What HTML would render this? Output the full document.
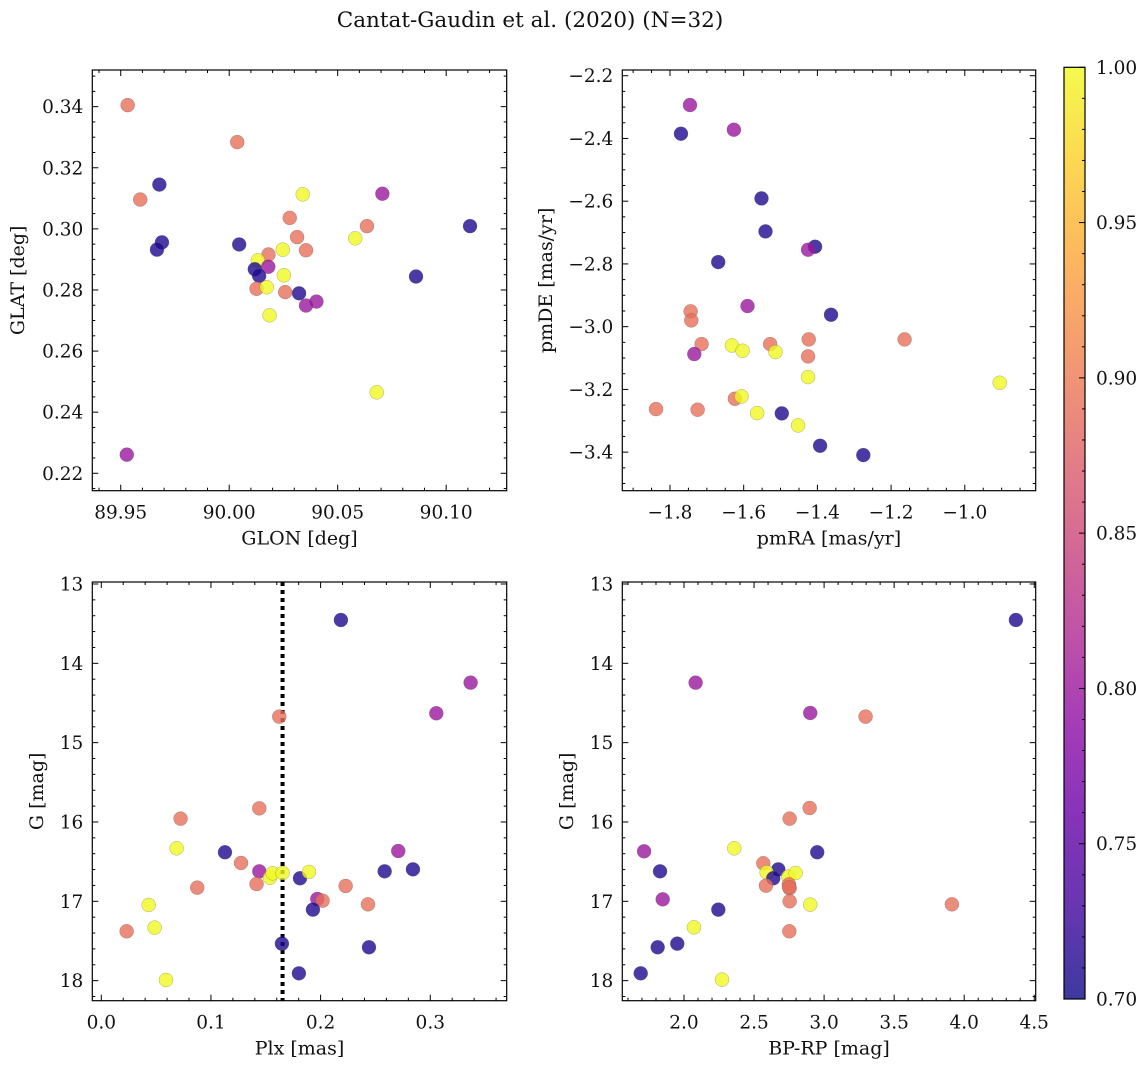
<!DOCTYPE html>
<html><head><meta charset="utf-8"><style>
html,body{margin:0;padding:0;background:#fff;}
svg{display:block;font-family:"DejaVu Serif","Liberation Serif",serif;}
</style></head><body>
<svg id="fig" width="1148" height="1067" viewBox="0 0 1148 1067" xmlns="http://www.w3.org/2000/svg">
<defs>
<linearGradient id="plasmaGrad" x1="0" y1="1" x2="0" y2="0">
<stop offset="0" stop-color="#0d0887"/><stop offset="0.1" stop-color="#41049d"/><stop offset="0.2" stop-color="#6a00a8"/><stop offset="0.3" stop-color="#8f0da4"/><stop offset="0.4" stop-color="#b12a90"/><stop offset="0.5" stop-color="#cc4778"/><stop offset="0.6" stop-color="#e16462"/><stop offset="0.7" stop-color="#f2844b"/><stop offset="0.8" stop-color="#fca636"/><stop offset="0.9" stop-color="#fcce25"/><stop offset="1" stop-color="#f0f921"/>
</linearGradient>
</defs>
<text x="530" y="27" text-anchor="middle" font-size="21.5" fill="#111">Cantat-Gaudin et al. (2020) (N=32)</text>
</svg>
<script>
// Panel 1: GLON vs GLAT
const p1_glon=[89.9532,90.0037,89.959,89.9678,89.969,89.9667,90.0046,90.0339,90.0706,90.111,90.0279,90.0635,90.0581,90.0313,90.0247,90.0354,90.0181,90.0132,90.018,90.0118,90.0138,90.0252,90.0126,90.0173,90.0258,90.0322,90.0354,90.0402,90.0186,90.0861,90.068,89.9528];
const p1_glat=[0.3405,0.3284,0.3096,0.3145,0.2956,0.2932,0.2949,0.3113,0.3115,0.3009,0.3036,0.3009,0.2969,0.2973,0.2932,0.2930,0.2916,0.2897,0.2876,0.2868,0.2846,0.2848,0.2804,0.2809,0.2793,0.2789,0.2749,0.2762,0.2717,0.2844,0.2465,0.2261];
const p1_prob=[0.89,0.89,0.89,0.71,0.71,0.71,0.71,1.0,0.80,0.71,0.89,0.89,1.0,0.89,1.0,0.89,0.89,1.0,0.80,0.71,0.71,1.0,0.89,1.0,0.89,0.71,0.80,0.80,1.0,0.71,1.0,0.80];
// Panel 2: pmRA vs pmDE
const p2_pmra=[-1.7458,-1.7702,-1.6266,-1.5517,-1.5408,-1.4063,-1.4253,-1.6691,-1.5896,-1.744,-1.7422,-1.363,-1.7142,-1.734,-1.632,-1.6031,-1.5282,-1.5137,-1.4235,-1.4253,-1.1634,-1.4253,-0.9051,-1.6239,-1.6058,-1.8379,-1.725,-1.5634,-1.4966,-1.4523,-1.3927,-1.2754];
const p2_pmde=[-2.2935,-2.3849,-2.3722,-2.5911,-2.6963,-2.7452,-2.7547,-2.7941,-2.9343,-2.9513,-2.98,-2.962,-3.0555,-3.0873,-3.06,-3.0767,-3.0555,-3.081,-3.0406,-3.0948,-3.0406,-3.1607,-3.1788,-3.2298,-3.2223,-3.2627,-3.2648,-3.2755,-3.2765,-3.3148,-3.3796,-3.4094];
const p2_prob=[0.80,0.71,0.80,0.71,0.71,0.71,0.80,0.71,0.80,0.89,0.89,0.71,0.89,0.80,1.0,1.0,0.89,1.0,0.89,0.89,0.89,1.0,1.0,0.89,1.0,0.89,0.89,1.0,0.71,1.0,0.71,0.71];
// Panel 3: Plx vs G
const p3_plx=[0.2185,0.3368,0.3055,0.1623,0.1441,0.0723,0.0687,0.1128,0.1274,0.1441,0.1538,0.1562,0.1653,0.1812,0.1894,0.1416,0.0875,0.2708,0.2584,0.2842,0.2228,0.197,0.2018,0.2432,0.193,0.0432,0.0486,0.0231,0.1647,0.2441,0.1802,0.059];
const p3_g=[13.454,14.244,14.630,14.672,15.828,15.958,16.332,16.382,16.517,16.622,16.702,16.647,16.643,16.710,16.630,16.782,16.828,16.366,16.622,16.597,16.807,16.971,16.992,17.038,17.105,17.046,17.332,17.378,17.534,17.580,17.908,17.992];
const p3_prob=[0.71,0.80,0.80,0.89,0.89,0.89,1.0,0.71,0.89,0.80,1.0,1.0,1.0,0.71,1.0,0.89,0.89,0.80,0.71,0.71,0.89,0.80,0.89,0.89,0.71,1.0,1.0,0.89,0.71,0.71,0.71,1.0];
const plxLine=0.1653;
// Panel 4: BP-RP vs G
const p4_bprp=[4.369,2.083,2.901,3.296,2.897,2.754,2.359,2.951,1.715,1.829,2.566,2.673,2.590,2.637,2.745,2.797,2.585,2.749,2.754,1.848,2.754,2.901,3.912,2.245,2.071,2.752,1.812,1.952,1.691,2.271,2.75];
const p4_g=[13.454,14.244,14.626,14.672,15.824,15.958,16.332,16.382,16.370,16.622,16.521,16.597,16.634,16.710,16.689,16.643,16.803,16.786,16.836,16.975,17.0,17.042,17.038,17.105,17.328,17.378,17.580,17.534,17.908,17.987,16.82];
const p4_prob=[0.71,0.80,0.80,0.89,0.89,0.89,1.0,0.71,0.80,0.71,0.89,0.71,1.0,0.71,1.0,1.0,0.89,0.89,0.89,0.80,0.89,1.0,0.89,0.71,1.0,0.89,0.71,0.71,0.71,1.0,0.89];
// Colorbar
const cbTicks=[0.70,0.75,0.80,0.85,0.90,0.95,1.00];

const NS='http://www.w3.org/2000/svg';
const svg=document.getElementById('fig');
const stops=[[0,[13,8,135]],[0.1,[65,4,157]],[0.2,[106,0,168]],[0.3,[143,13,164]],[0.4,[177,42,144]],[0.5,[204,71,120]],[0.6,[225,100,98]],[0.7,[242,132,75]],[0.8,[252,166,54]],[0.9,[252,206,37]],[1,[240,249,33]]];
function plasma(t){t=Math.max(0,Math.min(1,t));for(let i=1;i<stops.length;i++){if(t<=stops[i][0]){const a=stops[i-1],b=stops[i];const f=(t-a[0])/(b[0]-a[0]);const c=a[1].map((v,k)=>Math.round(v+(b[1][k]-v)*f));return 'rgb('+c.join(',')+')';}}return 'rgb(240,249,33)';}
function mk(tag,attrs,parent){const e=document.createElementNS(NS,tag);for(const k in attrs)e.setAttribute(k,attrs[k]);(parent||svg).appendChild(e);return e;}
function fmt(v,d){const s=Math.abs(v).toFixed(d);return (v<-1e-9?'\u2212':'')+s;}
const TF=18.5, LF=19;

function panel(o){
  const g=mk('g',{});
  
  
  const X=v=>o.px0+(v-o.xmin)/(o.xmax-o.xmin)*(o.px1-o.px0);
  const Y=o.invertY?(v=>o.py0+(v-o.ymin)/(o.ymax-o.ymin)*(o.py1-o.py0)):(v=>o.py1-(v-o.ymin)/(o.ymax-o.ymin)*(o.py1-o.py0));
  const tg=mk('g',{stroke:'#000','stroke-width':1},g);
  
  
  const eps=1e-9;
  for(let v=Math.ceil(o.xmin/o.xminor-eps)*o.xminor;v<=o.xmax+eps;v+=o.xminor){
    const isMaj=Math.abs(v/o.xmajor-Math.round(v/o.xmajor))<1e-6;const L=isMaj?6:3;const x=X(v);
    mk('line',{x1:x,x2:x,y1:o.py1,y2:o.py1-L},tg);mk('line',{x1:x,x2:x,y1:o.py0,y2:o.py0+L},tg);
    if(isMaj){const t=mk('text',{x:x,y:o.py1+28,'text-anchor':'middle','font-size':TF,fill:'#111',stroke:'none'},g);t.textContent=fmt(v,o.xdec);
      
      }
  }
  const ylo=Math.min(o.ymin,o.ymax),yhi=Math.max(o.ymin,o.ymax);
  for(let v=Math.ceil(ylo/o.yminor-eps)*o.yminor;v<=yhi+eps;v+=o.yminor){
    const isMaj=Math.abs(v/o.ymajor-Math.round(v/o.ymajor))<1e-6;const L=isMaj?6:3;const y=Y(v);
    mk('line',{x1:o.px0,x2:o.px0+L,y1:y,y2:y},tg);mk('line',{x1:o.px1,x2:o.px1-L,y1:y,y2:y},tg);
    if(isMaj){const t=mk('text',{x:o.px0-9,y:y+6.5,'text-anchor':'end','font-size':TF,fill:'#111',stroke:'none'},g);t.textContent=fmt(v,o.ydec);
      
      }
  }
  if(o.vline!==undefined){const l=mk('line',{x1:X(o.vline),x2:X(o.vline),y1:o.py0,y2:o.py1,stroke:'#000','stroke-width':4,'stroke-dasharray':'4 4'},g);
    
    }
  const pg=mk('g',{},g);
  
  
  for(let i=0;i<o.xs.length;i++){
    const c=mk('circle',{cx:X(o.xs[i]),cy:Y(o.ys[i]),r:7,fill:plasma((o.cs[i]-0.7)/0.3),'fill-opacity':0.8,stroke:'#555','stroke-opacity':0.6,'stroke-width':0.4},pg);
    
    
  }
  const fr=mk('rect',{x:o.px0,y:o.py0,width:o.px1-o.px0,height:o.py1-o.py0,fill:'none',stroke:'#000','stroke-width':1.2},g);
  
  
  const xl=mk('text',{x:(o.px0+o.px1)/2,y:o.py1+54,'text-anchor':'middle','font-size':LF,fill:'#111'},g);xl.textContent=o.xlabel;
  
  
  const yx=o.ylabx,yy=(o.py0+o.py1)/2;
  const yl=mk('text',{x:yx,y:yy,'text-anchor':'middle','font-size':LF,fill:'#111',transform:'rotate(-90 '+yx+' '+yy+')'},g);yl.textContent=o.ylabel;
  
  
}

panel({name:'glon-glat-panel',px0:92.3,px1:506.7,py0:70,py1:490.7,xmin:89.9369,xmax:90.1279,ymin:0.2143,ymax:0.3520,xmajor:0.05,xminor:0.01,ymajor:0.02,yminor:0.005,xdec:2,ydec:2,xs:p1_glon,ys:p1_glat,cs:p1_prob,xlabel:'GLON [deg]',ylabel:'GLAT [deg]',ylabx:24});
panel({name:'pm-panel',px0:622.3,px1:1035.7,py0:70,py1:490.7,xmin:-1.9294,xmax:-0.8076,ymin:-3.5229,ymax:-2.1818,xmajor:0.2,xminor:0.05,ymajor:0.2,yminor:0.05,xdec:1,ydec:1,xs:p2_pmra,ys:p2_pmde,cs:p2_prob,xlabel:'pmRA [mas/yr]',ylabel:'pmDE [mas/yr]',ylabx:552});
panel({name:'plx-g-panel',px0:92.3,px1:506.7,py0:582,py1:1000.7,xmin:-0.0082,xmax:0.3697,ymin:12.975,ymax:18.253,invertY:true,xmajor:0.1,xminor:0.02,ymajor:1,yminor:0.2,xdec:1,ydec:0,xs:p3_plx,ys:p3_g,cs:p3_prob,vline:plxLine,xlabel:'Plx [mas]',ylabel:'G [mag]',ylabx:43});
panel({name:'cmd-panel',px0:622.3,px1:1035.7,py0:582,py1:1000.7,xmin:1.5596,xmax:4.5104,ymin:12.975,ymax:18.253,invertY:true,xmajor:0.5,xminor:0.1,ymajor:1,yminor:0.2,xdec:1,ydec:0,xs:p4_bprp,ys:p4_g,cs:p4_prob,xlabel:'BP-RP [mag]',ylabel:'G [mag]',ylabx:573});

const cb=mk('g',{});


const cbx0=1064,cbx1=1085,cby0=67.3,cby1=999;
const CY=v=>cby1-(v-0.7)/0.3*(cby1-cby0);
mk('rect',{x:cbx0,y:cby0,width:cbx1-cbx0,height:cby1-cby0,fill:'url(#plasmaGrad)','fill-opacity':0.8},cb);
for(let k=0;k<=30;k++){const v=0.7+k*0.01;const y=CY(v);const maj=k%5===0;
  mk('line',{x1:cbx1,x2:cbx1-(maj?6:3),y1:y,y2:y,stroke:'#000','stroke-width':1},cb);}
for(let i=0;i<cbTicks.length;i++){const t=mk('text',{x:1096,y:CY(cbTicks[i])+6.5,'font-size':TF,fill:'#111'},cb);t.textContent=cbTicks[i].toFixed(2);
  
  }
mk('rect',{x:cbx0,y:cby0,width:cbx1-cbx0,height:cby1-cby0,fill:'none',stroke:'#000','stroke-width':1.2},cb);
</script>
</body></html>
